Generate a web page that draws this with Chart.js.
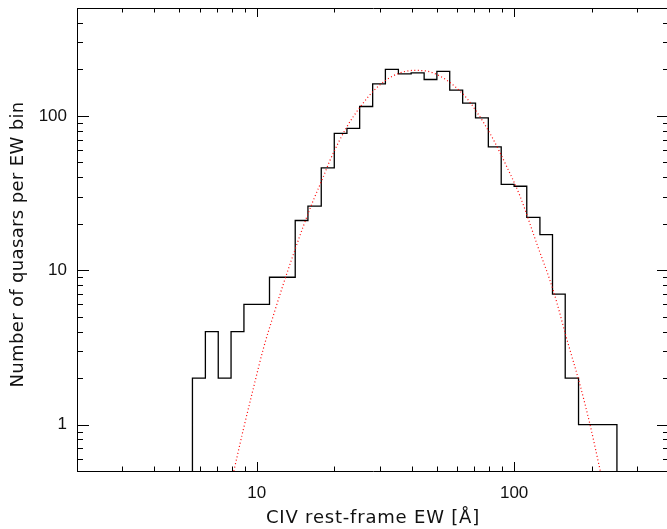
<!DOCTYPE html>
<html>
<head>
<meta charset="utf-8">
<script src="https://cdn.jsdelivr.net/npm/chart.js@4.4.1/dist/chart.umd.min.js"></script>
<style>
html, body { margin: 0; padding: 0; overflow: hidden; background: #fff; }
canvas { display: block; }
</style>
</head>
<body>
<canvas id="ewChart" width="672" height="529"></canvas>
<script>
// histogram bin edges in EW [A] (0.05 dex bins)
const binEdges = [5.62, 6.31, 7.08, 7.94, 8.91, 10.0, 11.2, 12.6, 14.1, 15.8, 17.8,
    20.0, 22.4, 25.1, 28.2, 31.6, 35.5, 39.8, 44.7, 50.1, 56.2, 63.1, 70.8, 79.4,
    89.1, 100, 112, 126, 141, 158, 178, 200, 224, 251];
// quasars per bin
const binCounts = [2, 4, 2, 4, 6, 6, 9, 9, 21, 26, 46, 77, 83, 115, 161, 200, 187,
    190, 172, 194, 147, 121, 97, 63, 36, 35, 22, 17, 7, 2, 1, 1, 1];

// red dotted model curve
const fitEW = [8.14, 8.85, 9.68, 10.6, 11.6, 12.7, 13.9, 15.2, 16.6, 18.1, 19.2,
    22.3, 25.2, 28.4, 32.0, 36.1, 40.6, 45.8, 51.5, 58.1, 65.5, 71.6, 82, 93,
    105.6, 122.6, 142.3, 160.5, 180.8, 197.8, 216.3];
const fitCounts = [0.5, 0.92, 1.7, 3.1, 5.1, 8.2, 12.8, 19.5, 28.5, 40, 51,
    84, 114, 145, 172, 190, 197, 195, 181, 158, 130, 106, 73, 48,
    30, 14.8, 7.3, 3.55, 1.78, 0.98, 0.5];

const xTickLabels = [10, 100];
const yTickLabels = [1, 10, 100];

// outline of the histogram, dropping to below the axis at both ends
const last = binEdges.length - 1;
const histPoints = [{ x: binEdges[0], y: 0.1 }];
binCounts.forEach((c, i) => histPoints.push({ x: binEdges[i], y: c }));
histPoints.push({ x: binEdges[last], y: binCounts[binCounts.length - 1] });
histPoints.push({ x: binEdges[last], y: 0.1 });

const fitPoints = fitEW.map((v, i) => ({ x: v, y: fitCounts[i] }));

// box round the plot with IDL style ticks pointing inwards
const frameTicks = {
    id: 'frameTicks',
    afterDatasetsDraw(chart) {
        const { ctx, chartArea: a, scales: { x, y } } = chart;
        ctx.save();
        ctx.strokeStyle = '#000';
        ctx.lineWidth = 1;
        ctx.beginPath();
        ctx.rect(a.left + 0.5, a.top + 0.5, a.right - a.left, a.bottom - a.top);

        for (let d = 1; d <= 100; d *= 10) {
            for (let m = 1; m <= 9; m++) {
                const v = d * m;
                if (v < x.min || v > x.max) continue;
                const px = Math.round(x.getPixelForValue(v)) + 0.5;
                const len = m === 1 ? 9 : 4.5;
                ctx.moveTo(px, a.bottom);
                ctx.lineTo(px, a.bottom - len);
                ctx.moveTo(px, a.top);
                ctx.lineTo(px, a.top + len);
            }
        }
        for (let d = 0.1; d <= 100; d *= 10) {
            for (let m = 1; m <= 9; m++) {
                const v = d * m;
                if (v < y.min * 0.999 || v > y.max * 1.001) continue;
                const py = Math.round(y.getPixelForValue(v)) + 0.5;
                const len = m === 1 ? 12 : 6;
                ctx.moveTo(a.left, py);
                ctx.lineTo(a.left + len, py);
                ctx.moveTo(a.right, py);
                ctx.lineTo(a.right - len, py);
            }
        }
        ctx.stroke();
        ctx.restore();
    }
};

// the IDL lettering is wider spaced than the system fonts
const titleSpacing = {
    id: 'titleSpacing',
    afterLayout(chart) {
        [['x', '0.8px', 0], ['y', '0.35px', 5]].forEach(([id, sp, dy]) => {
            const s = chart.scales[id];
            if (s._spaced) return;
            const orig = s.drawTitle;
            s.drawTitle = function () {
                const ctx = this.ctx;
                ctx.save();
                ctx.letterSpacing = sp;
                ctx.translate(0, dy);
                orig.call(this);
                ctx.restore();
            };
            s._spaced = true;
        });
    }
};

const tickFont = { family: 'Liberation Sans', size: 17 };
const titleFont = { family: 'DejaVu Sans', size: 18 };

new Chart(document.getElementById('ewChart'), {
    type: 'line',
    data: {
        datasets: [{
            label: 'fit',
            data: fitPoints,
            borderColor: '#ff0000',
            borderWidth: 1.2,
            borderDash: [1, 2.5],
            pointRadius: 0,
            fill: false,
            cubicInterpolationMode: 'monotone'
        }, {
            label: 'histogram',
            data: histPoints,
            stepped: true,
            borderColor: '#000',
            borderWidth: 1.3,
            pointRadius: 0,
            fill: false
        }]
    },
    options: {
        responsive: false,
        animation: false,
        layout: { padding: { top: 8, right: 3, left: 0, bottom: 0 } },
        plugins: { legend: { display: false }, tooltip: { enabled: false } },
        scales: {
            x: {
                type: 'logarithmic',
                min: 2,
                max: 400,
                grid: { display: false, drawTicks: false },
                border: { display: false },
                afterBuildTicks: s => { s.ticks = xTickLabels.map(v => ({ value: v })); },
                afterFit: s => { s.height = 58; s.paddingLeft = 0; s.paddingRight = 0; },
                ticks: {
                    autoSkip: false, maxRotation: 0, padding: 12, color: '#111',
                    font: tickFont, callback: v => String(v)
                },
                title: {
                    display: true, text: 'CIV rest-frame EW [Å]', color: '#111',
                    font: titleFont, padding: { top: 0, bottom: 0 }
                }
            },
            y: {
                type: 'logarithmic',
                min: 0.5,
                max: 500,
                grid: { display: false, drawTicks: false },
                border: { display: false },
                afterBuildTicks: s => { s.ticks = yTickLabels.map(v => ({ value: v })); },
                afterFit: s => { s.width = 77; s.paddingTop = 0; s.paddingBottom = 0; },
                ticks: {
                    autoSkip: false, padding: 10, color: '#111',
                    font: tickFont, callback: v => String(v)
                },
                title: {
                    display: true, text: 'Number of quasars per EW bin', color: '#111',
                    font: titleFont, padding: { top: 8, bottom: 0 }
                }
            }
        }
    },
    plugins: [frameTicks, titleSpacing]
});
</script>
</body>
</html>
